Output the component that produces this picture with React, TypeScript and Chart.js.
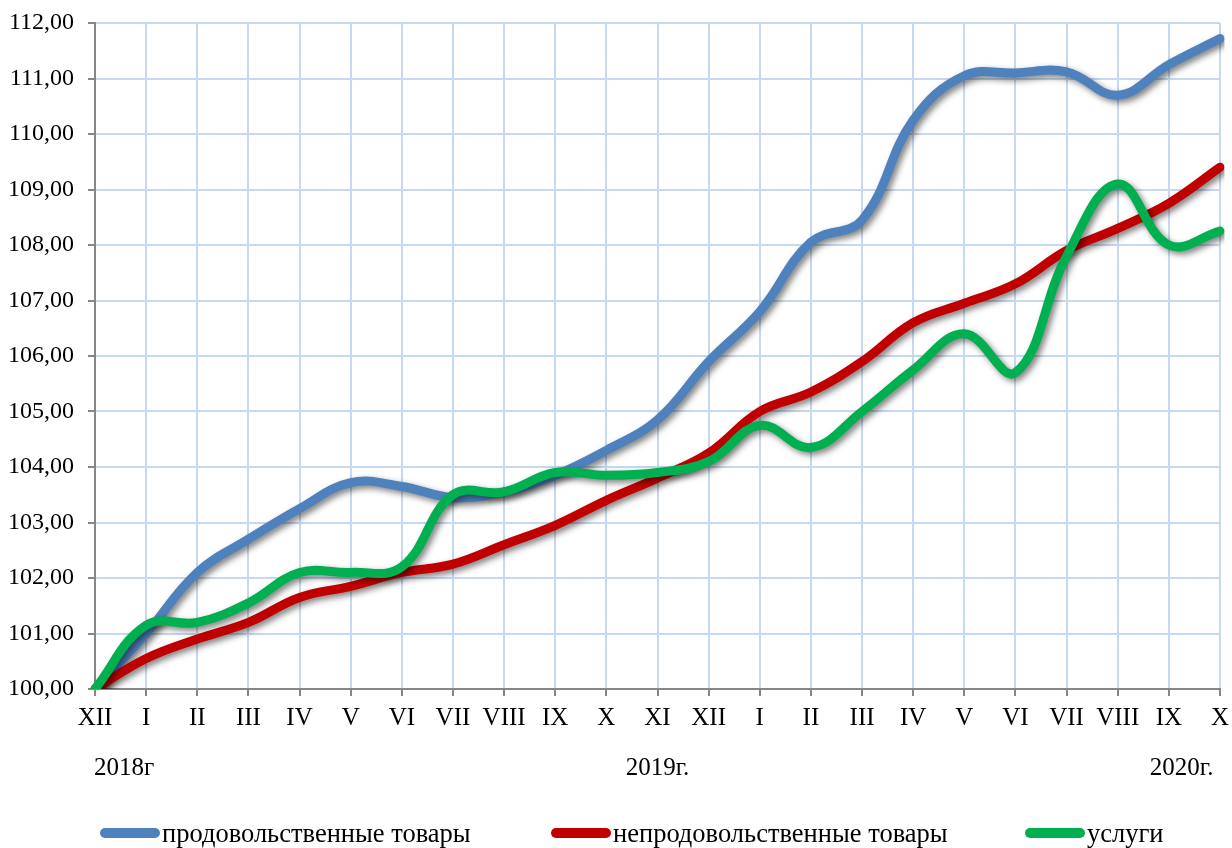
import React, { useEffect, useRef } from "react";
import { Chart, registerables } from "chart.js";

Chart.register(...registerables);

const categories = ["XII", "I", "II", "III", "IV", "V", "VI", "VII", "VIII", "IX", "X", "XI", "XII", "I", "II", "III", "IV", "V", "VI", "VII", "VIII", "IX", "X"];

const foodValues = [100.0, 101.0, 102.1, 102.7, 103.25, 103.72, 103.65, 103.45, 103.55, 103.85, 104.3, 104.85, 105.9, 106.8, 108.05, 108.45, 110.25, 111.05, 111.1, 111.12, 110.7, 111.25, 111.72];
const nonFoodValues = [100.0, 100.55, 100.9, 101.2, 101.65, 101.85, 102.1, 102.25, 102.6, 102.95, 103.4, 103.8, 104.25, 105.0, 105.35, 105.9, 106.6, 106.95, 107.3, 107.9, 108.3, 108.75, 109.4];
const servicesValues = [100.0, 101.15, 101.2, 101.55, 102.1, 102.1, 102.2, 103.5, 103.55, 103.9, 103.85, 103.9, 104.1, 104.75, 104.35, 105.0, 105.75, 106.4, 105.7, 107.8, 109.1, 108.0, 108.25];

const seriesNames = ["продовольственные товары", "непродовольственные товары", "услуги"];
const seriesColors = ["#4F81BD", "#C00000", "#00B050"];

const yearLabels = [
  { text: "2018г", index: 0.57 },
  { text: "2019г.", index: 11 },
  { text: "2020г.", index: 21.25 },
];

const FONT = "'Liberation Serif', 'Times New Roman', serif";

export default function App() {
  const canvasRef = useRef<HTMLCanvasElement | null>(null);

  useEffect(() => {
    const canvas = canvasRef.current;
    if (!canvas) return;

    const shadowPlugin = {
      id: "shadowPlugin",
      beforeDatasetsDraw(chart: any) {
        const ctx = chart.ctx;
        ctx.save();
        ctx.shadowColor = "rgba(0,0,0,0.5)";
        ctx.shadowBlur = 6;
        ctx.shadowOffsetX = 3;
        ctx.shadowOffsetY = 3;
      },
      afterDatasetsDraw(chart: any) {
        chart.ctx.restore();
      },
    };

    const yearPlugin = {
      id: "yearPlugin",
      afterDraw(chart: any) {
        const ctx = chart.ctx;
        const xs = chart.scales.x;
        ctx.save();
        ctx.font = `25px ${FONT}`;
        ctx.fillStyle = "#000";
        ctx.textAlign = "center";
        ctx.textBaseline = "middle";
        const y = chart.chartArea.bottom + 79;
        for (const yl of yearLabels) {
          const i0 = Math.floor(yl.index);
          const frac = yl.index - i0;
          const p0 = xs.getPixelForValue(i0);
          const p1 = xs.getPixelForValue(Math.min(i0 + 1, categories.length - 1));
          ctx.fillText(yl.text, p0 + (p1 - p0) * frac, y);
        }
        ctx.restore();
      },
    };

    const chart = new Chart(canvas, {
      type: "line",
      data: {
        labels: categories,
        datasets: [foodValues, nonFoodValues, servicesValues].map((vals, i) => ({
          label: seriesNames[i],
          data: vals,
          borderColor: seriesColors[i],
          backgroundColor: seriesColors[i],
          borderWidth: 9,
          pointRadius: 0,
          tension: 0.4,
          borderCapStyle: "round" as const,
          borderJoinStyle: "round" as const,
          fill: false,
          order: 2 - i,
        })),
      },
      options: {
        animation: false,
        responsive: false,
        maintainAspectRatio: false,
        layout: { padding: { top: 23, right: 12, left: 0, bottom: 0 } },
        plugins: {
          legend: { display: false },
          tooltip: { enabled: false },
        },
        scales: {
          x: {
            offset: false,
            grid: {
              color: "#C6D9F0",
              lineWidth: 2,
              tickColor: "#868686",
              tickLength: 7,
              drawOnChartArea: true,
            },
            border: { color: "#868686", width: 2 },
            ticks: {
              color: "#000",
              font: { family: FONT, size: 25 },
              maxRotation: 0,
              autoSkip: false,
              padding: 7,
            },
            afterFit(scale: any) {
              scale.height = 159;
              scale.paddingLeft = 0;
              scale.paddingRight = 0;
            },
          },
          y: {
            min: 100,
            max: 112,
            grid: {
              color: "#C6D9F0",
              lineWidth: 2,
              tickColor: "#868686",
              tickLength: 7,
            },
            border: { color: "#868686", width: 2 },
            ticks: {
              stepSize: 1,
              color: "#000",
              font: { family: FONT, size: 24 },
              padding: 14,
              callback: (v: any) => Number(v).toFixed(2).replace(".", ","),
            },
            afterFit(scale: any) {
              scale.width = 95;
              scale.paddingTop = 0;
              scale.paddingBottom = 0;
            },
          },
        },
      },
      plugins: [shadowPlugin, yearPlugin],
    });

    return () => chart.destroy();
  }, []);

  const legendPos = [100, 551, 1025];

  return (
    <div style={{ position: "fixed", left: 0, top: 0, width: 1232, height: 848, background: "#fff" }}>
      <canvas ref={canvasRef} width={1232} height={848} style={{ position: "absolute", left: 0, top: 0 }} />
      {seriesNames.map((name, i) => (
        <div
          key={name}
          style={{
            position: "absolute",
            left: legendPos[i],
            top: 817,
            height: 32,
            display: "flex",
            alignItems: "center",
            fontFamily: FONT,
            fontSize: 26.5,
            color: "#000",
            whiteSpace: "nowrap",
          }}
        >
          <span
            style={{
              display: "inline-block",
              width: 60,
              height: 10,
              borderRadius: 5,
              background: seriesColors[i],
              marginRight: 2,
            }}
          />
          <span>{name}</span>
        </div>
      ))}
    </div>
  );
}
